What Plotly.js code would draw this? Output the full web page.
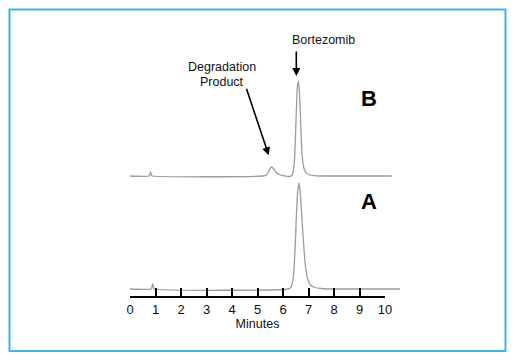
<!DOCTYPE html>
<html>
<head>
<meta charset="utf-8">
<script src="https://cdn.plot.ly/plotly-3.0.1.min.js"></script>
<style>
  html, body { margin: 0; padding: 0; background: #ffffff; }
  #chart { width: 515px; height: 361px; }
</style>
</head>
<body>
<div id="chart"></div>
<script>
// Chromatogram A (reference) — retention time (min) and detector response (arb. units)
var timeA = [0, 0.82, 0.86, 0.89, 0.92, 0.96, 6.2, 6.3, 6.36, 6.42, 6.47, 6.52, 6.57, 6.62, 6.67, 6.72, 6.78, 6.84, 6.9, 6.98, 7.08, 7.25, 7.5, 8.0, 10.59];
var respA = [0, 0, 2, 5, 1.5, 0, 0, 1.5, 5, 16, 38, 70, 96, 106, 98, 80, 56, 34, 19, 9, 4, 1.5, 0.5, 0, 0];

// Chromatogram B (degraded sample)
var timeB = [0, 0.74, 0.78, 0.81, 0.84, 0.88, 5.2, 5.35, 5.45, 5.52, 5.56, 5.62, 5.72, 5.85, 6.0, 6.2, 6.33, 6.4, 6.46, 6.51, 6.56, 6.6, 6.64, 6.69, 6.74, 6.8, 6.88, 7.0, 7.2, 7.5, 10.27];
var respB = [0, 0, 1.5, 4, 1, 0, 0, 1, 5, 8.5, 9, 7.5, 4, 1.5, 0.3, -0.5, 0, 4, 20, 55, 88, 95, 86, 55, 25, 10, 4, 1.5, 0.4, 0, 0];

// Axis ticks
var tickValues = [0, 1, 2, 3, 4, 5, 6, 7, 8, 9, 10];
var tickLabels = ['0', '1', '2', '3', '4', '5', '6', '7', '8', '9', '10'];

var FONT = 'Liberation Sans, Arial, Helvetica, sans-serif';
var W = 515, H = 361, L = 130, R = 115, T = 20, B = 64;
var plotW = W - L - R, plotH = H - T - B;
function px(x) { return (x - L) / plotW; }
function py(y) { return (H - B - y) / plotH; }

var lineStyle = {color: '#9c9c9c', width: 1.3, shape: 'spline', smoothing: 0.5};

var traces = [
  {x: timeA, y: respA, type: 'scatter', mode: 'lines', line: lineStyle, xaxis: 'x', yaxis: 'y', hoverinfo: 'skip', name: 'A'},
  {x: timeB, y: respB, type: 'scatter', mode: 'lines', line: lineStyle, xaxis: 'x', yaxis: 'y2', hoverinfo: 'skip', name: 'B'},
  // carrier for the time axis (minutes 0-10), draws nothing visible
  {x: [tickValues[0], tickValues[tickValues.length - 1]], y: [0, 0], type: 'scatter', mode: 'lines',
   line: {width: 0, color: 'rgba(0,0,0,0)'}, opacity: 0, xaxis: 'x2', yaxis: 'y', hoverinfo: 'skip', name: 'axis'}
];

var layout = {
  width: W, height: H,
  margin: {l: L, r: R, t: T, b: B, pad: 0},
  paper_bgcolor: '#ffffff', plot_bgcolor: 'rgba(0,0,0,0)',
  showlegend: false,
  font: {family: FONT, size: 12.5, color: '#111111'},
  xaxis: {domain: [0, 1], range: [0, plotW / 25.5], visible: false, fixedrange: true},
  xaxis2: {
    domain: [0, 255 / plotW], range: [0, 10], anchor: 'free', position: 0,
    tickmode: 'array', tickvals: tickValues, ticktext: tickLabels,
    ticks: 'inside', ticklen: 8, tickwidth: 2, tickcolor: '#000000',
    showline: true, linewidth: 2, linecolor: '#000000',
    showgrid: false, zeroline: false, ticklabelstandoff: 0,
    tickfont: {family: FONT, size: 13, color: '#111111'},
    title: {text: 'Minutes', font: {family: FONT, size: 12.5, color: '#111111'}, standoff: 1}
  },
  yaxis: {domain: [0, 1], range: [-8, plotH - 8], visible: false, fixedrange: true},
  yaxis2: {domain: [0, 1], range: [-121, plotH - 121], overlaying: 'y', visible: false, fixedrange: true},
  shapes: [
    {type: 'rect', xref: 'paper', yref: 'paper', x0: px(9.5), x1: px(505.5), y0: py(9.5), y1: py(351),
     line: {color: '#3db5e0', width: 2}, fillcolor: 'rgba(0,0,0,0)', layer: 'below'}
  ],
  annotations: [
    {text: 'Bortezomib', xref: 'paper', yref: 'paper', x: px(323.5), y: py(39.5), xanchor: 'center', yanchor: 'middle', showarrow: false, font: {size: 12.5}},
    {text: 'Degradation', xref: 'paper', yref: 'paper', x: px(222), y: py(66.7), xanchor: 'center', yanchor: 'middle', showarrow: false, font: {size: 12.5}},
    {text: 'Product', xref: 'paper', yref: 'paper', x: px(222), y: py(81.7), xanchor: 'center', yanchor: 'middle', showarrow: false, font: {size: 12.5}},
    {text: '<b>B</b>', xref: 'paper', yref: 'paper', x: px(368.7), y: py(99), xanchor: 'center', yanchor: 'middle', showarrow: false, font: {size: 22, color: '#000000'}},
    {text: '<b>A</b>', xref: 'paper', yref: 'paper', x: px(368.7), y: py(201), xanchor: 'center', yanchor: 'middle', showarrow: false, font: {size: 22, color: '#000000'}},
    {text: '', xref: 'paper', yref: 'paper', x: px(296.3), y: py(76), ax: 0, ay: -26, axref: 'pixel', ayref: 'pixel',
     showarrow: true, arrowhead: 2, arrowsize: 1, arrowwidth: 1.6, arrowcolor: '#000000', standoff: 0, startstandoff: 0},
    {text: '', xref: 'paper', yref: 'paper', x: px(268.7), y: py(155.3), ax: -22.7, ay: -68, axref: 'pixel', ayref: 'pixel',
     showarrow: true, arrowhead: 2, arrowsize: 1, arrowwidth: 1.6, arrowcolor: '#000000', standoff: 0, startstandoff: 0}
  ]
};

Plotly.newPlot('chart', traces, layout, {staticPlot: true, displayModeBar: false});
</script>
</body>
</html>
